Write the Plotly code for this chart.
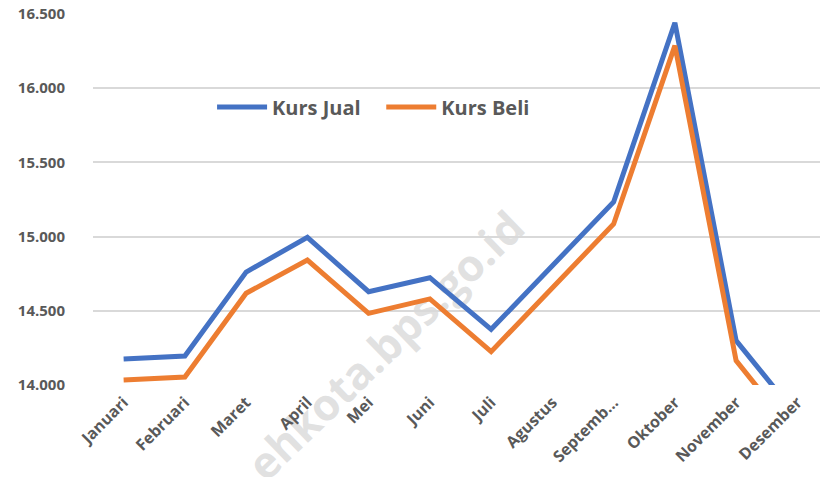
import plotly.graph_objects as go

months = ["Januari", "Februari", "Maret", "April", "Mei", "Juni", "Juli",
          "Agustus", "Septemb...", "Oktober", "November", "Desember"]
kurs_jual = [14175, 14195, 14761, 14995, 14629, 14723, 14375, 14804, 15233, 16441, 14299, 13790]
kurs_beli = [14034, 14054, 14618, 14842, 14483, 14580, 14225, 14655, 15085, 16287, 14164, 13650]
y_ticks = [14000, 14500, 15000, 15500, 16000, 16500]

FONT = "Open Sans"
GRAY = "#595959"

# page body has an 8px margin; figure is sized so the plot sits where the reference has it
W, H = 820, 469

fig = go.Figure()
fig.add_trace(go.Scatter(x=months, y=kurs_jual, mode="lines", name="Kurs Jual   ",
                         line=dict(color="#4472C4", width=5)))
fig.add_trace(go.Scatter(x=months, y=kurs_beli, mode="lines", name="Kurs Beli",
                         line=dict(color="#ED7D31", width=5)))

# watermark behind the lines
cx, cy = (387 - 93) / 735, (385 - 347) / 371
fig.add_shape(type="rect", xref="paper", yref="paper",
              x0=cx - 0.05, x1=cx + 0.05, y0=cy - 0.05, y1=cy + 0.05,
              line=dict(width=0), fillcolor="rgba(0,0,0,0)", layer="between",
              label=dict(text="ehkota.bps.go.id", textangle=-44, textposition="middle center",
                         font=dict(family=FONT, size=44, color="rgba(200,200,200,0.55)",
                                   weight="bold")))

fig.update_layout(
    width=W, height=H,
    margin=dict(l=85, r=0, t=6, b=92, autoexpand=False),
    paper_bgcolor="white", plot_bgcolor="white",
    separators=",.",
    font=dict(family=FONT, color=GRAY),
    showlegend=True,
    legend=dict(orientation="h", x=0.162, y=0.749, xanchor="left", yanchor="middle",
                font=dict(family=FONT, size=20, color=GRAY, weight="bold"),
                bgcolor="rgba(0,0,0,0)", itemwidth=50),
    xaxis=dict(tickangle=-45, showgrid=False, showline=False, ticks="", automargin=False,
               range=[-0.5, 11.5], ticklabelstandoff=4,
               tickfont=dict(family=FONT, size=16, color=GRAY, weight="bold")),
    yaxis=dict(range=[14000, 16500], tickvals=y_ticks, tickformat=",d", automargin=False,
               showgrid=True, gridcolor="#d9d9d9", gridwidth=1.5, zeroline=False,
               showline=False, ticks="", ticklabelstandoff=27, ticklabeloverflow="allow",
               tickfont=dict(family=FONT, size=15, color=GRAY, weight="bold")),
)

fig.write_html("out.html")
